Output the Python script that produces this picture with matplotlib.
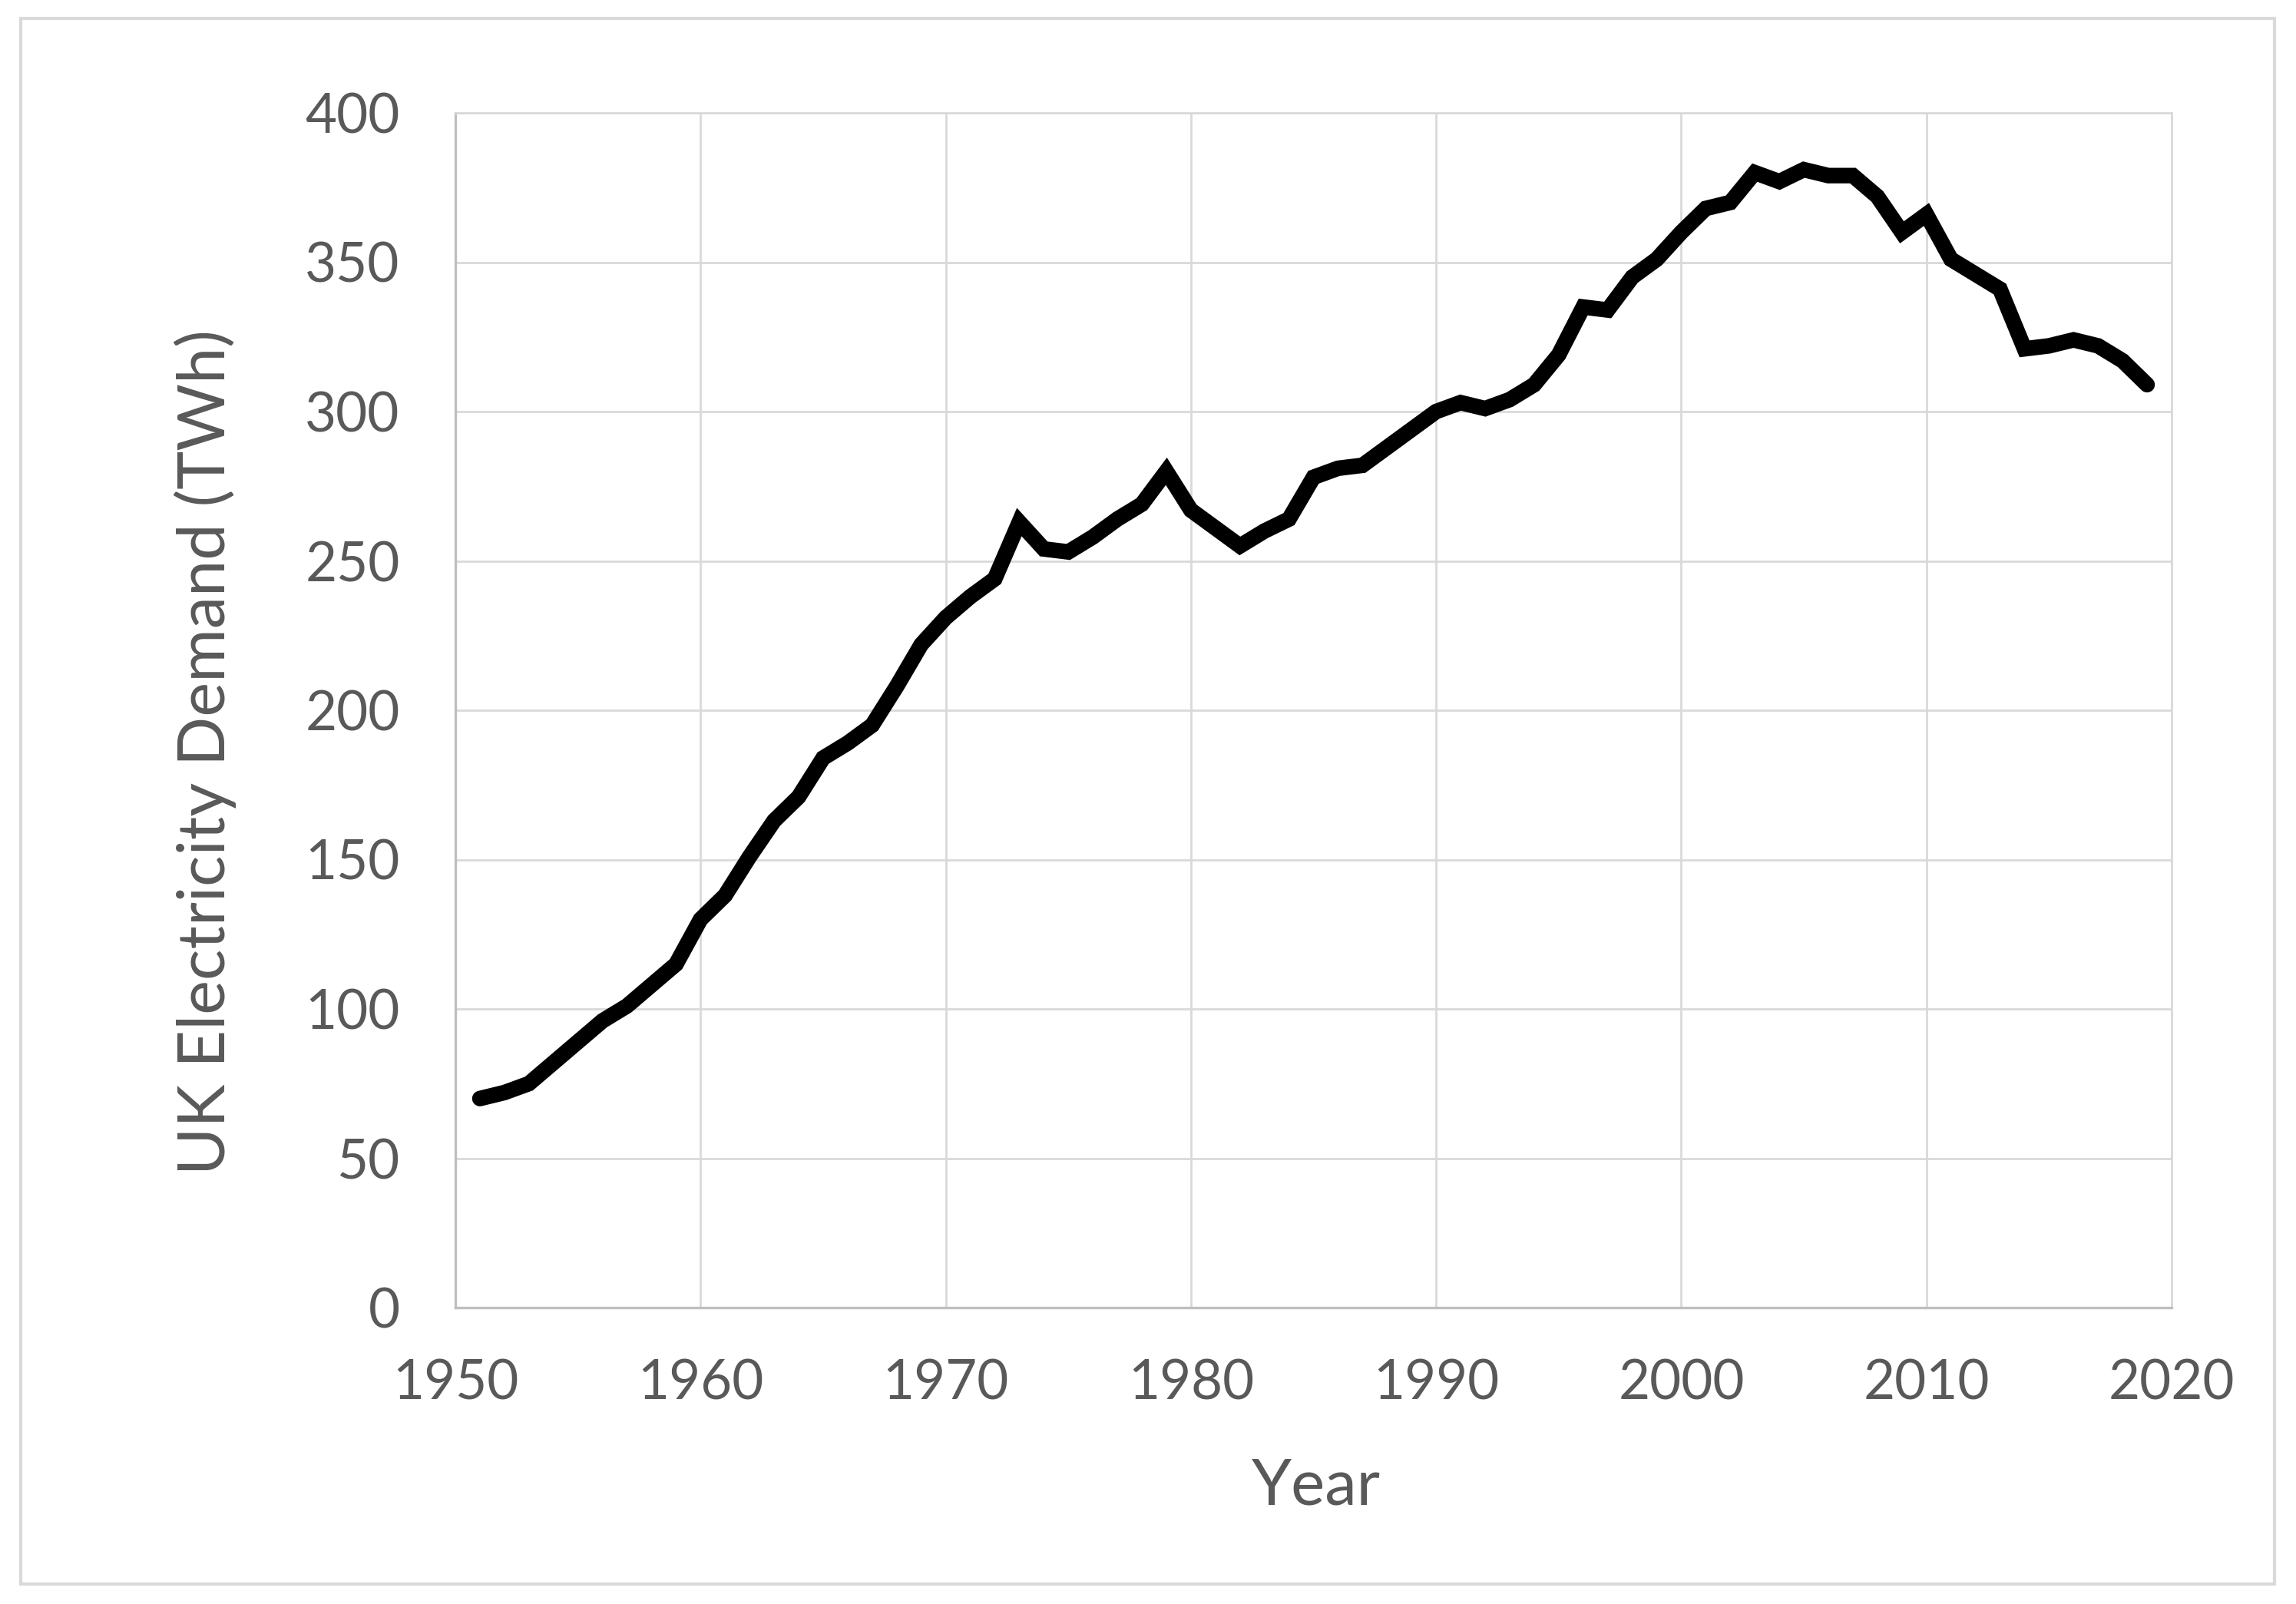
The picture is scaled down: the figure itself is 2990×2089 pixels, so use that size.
import matplotlib.pyplot as plt
from matplotlib.patches import Rectangle

plt.rcParams['font.family'] = ['Lato', 'DejaVu Sans']

years = list(range(1951, 2020))
demand = [70, 72, 75, 82, 89, 96, 101, 108, 115, 130,
          138, 151, 163, 171, 184, 189, 195, 208, 222, 231,
          238, 244, 263, 254, 253, 258, 264, 269, 280, 267,
          261, 255, 260, 264, 278, 281, 282, 288, 294, 300,
          303, 301, 304, 309, 319, 335, 334, 345, 351, 360,
          368, 370, 380, 377, 381, 379, 379, 372, 360, 366,
          351, 346, 341, 321, 322, 324, 322, 317, 309]

xticks = [1950, 1960, 1970, 1980, 1990, 2000, 2010, 2020]
yticks = [0, 50, 100, 150, 200, 250, 300, 350, 400]

grey = '#595959'
grid_c = '#d9d9d9'

fig = plt.figure(figsize=(14.95, 10.445), dpi=200)
W, H = 2990, 2089
ax = fig.add_axes([593 / W, 1 - 1703 / H, (2828 - 593) / W, (1703 - 147) / H])

ax.plot(years, demand, color='black', lw=7.3, solid_joinstyle='miter', solid_capstyle='round', zorder=3)

ax.set_xlim(1950, 2020)
ax.set_ylim(0, 400)
ax.set_xticks(xticks)
ax.set_yticks(yticks)
ax.grid(True, color=grid_c, lw=1.0)
ax.set_axisbelow(True)
for s in ['top', 'right']:
    ax.spines[s].set_color(grid_c)
    ax.spines[s].set_linewidth(1.0)
for s in ['left', 'bottom']:
    ax.spines[s].set_color('#bfbfbf')
    ax.spines[s].set_linewidth(1.2)
ax.tick_params(length=0, labelsize=25.5, labelcolor=grey)
ax.tick_params(axis='y', pad=26)
ax.tick_params(axis='x', pad=24)

ax.set_xlabel('Year', fontsize=30, color=grey)
ax.set_ylabel('UK Electricity Demand (TWh)', fontsize=30.5, color=grey)
ax.xaxis.set_label_coords((1714 - 593) / (2828 - 593), -(1936 - 1703) / (1703 - 147), transform=ax.transAxes)
ax.yaxis.set_label_coords(-(593 - 267) / (2828 - 593), 0.465, transform=ax.transAxes)
ax.xaxis.label.set_va('center')
ax.yaxis.label.set_va('center')

fig.patches.append(Rectangle((27 / W, 1 - 2063 / H), (2962 - 27) / W, (2063 - 24) / H,
                             transform=fig.transFigure, fill=False, edgecolor=grid_c, lw=1.5))

fig.savefig('out.png', dpi=200, facecolor='white')
